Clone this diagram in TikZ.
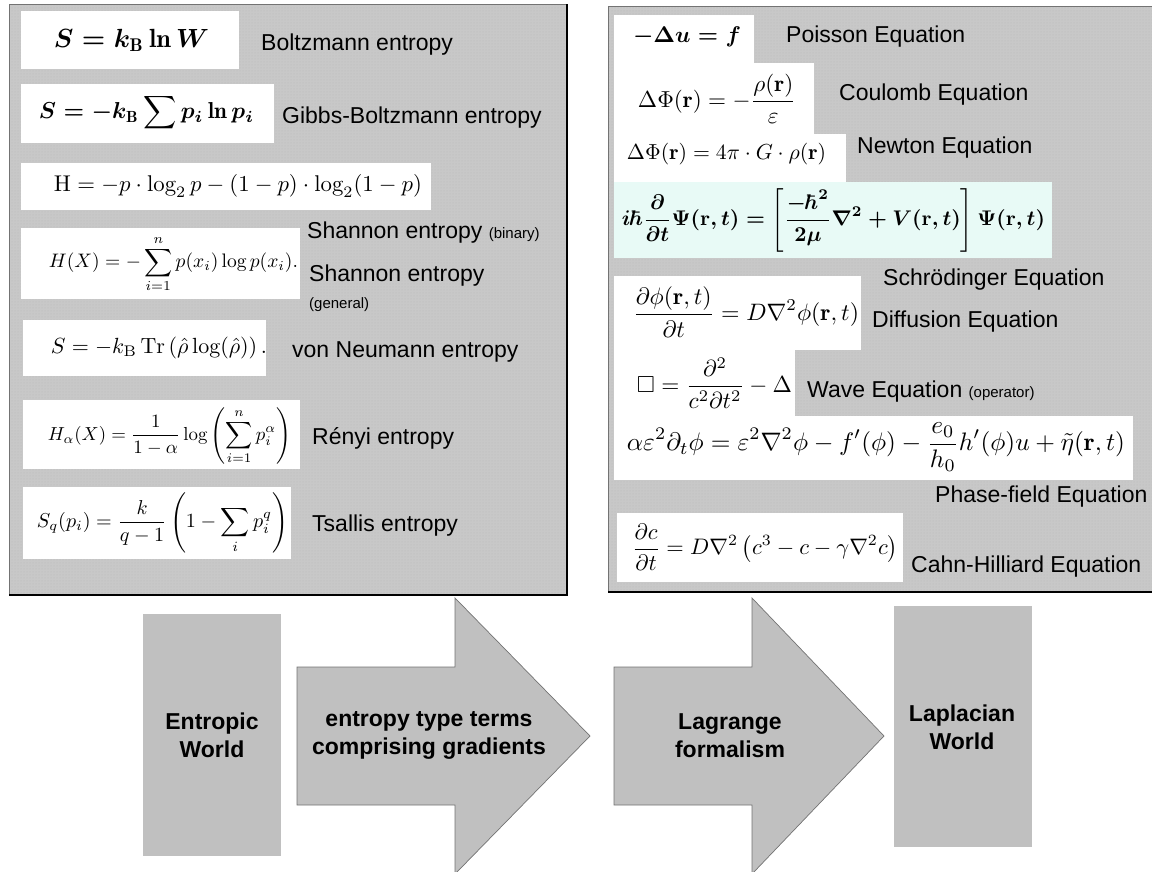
\documentclass[tikz,border=0pt]{standalone}
\usepackage{amsmath}
\usepackage{amssymb}
\usepackage{graphicx}
\usepackage{fontspec}
\newfontfamily\arial{Liberation Sans}
\usetikzlibrary{patterns}

\definecolor{panelgray}{RGB}{200,200,200}
\definecolor{dotgray}{RGB}{186,186,186}
\definecolor{blockgray}{RGB}{192,192,192}
\definecolor{mint}{RGB}{232,250,246}

\newcommand{\fml}[2]{\resizebox{#1pt}{!}{$\displaystyle #2$}}
\newcommand{\sm}[1]{{\fontsize{15}{18}\selectfont #1}}

\begin{document}
\begin{tikzpicture}[x=1pt,y=-1pt,
                panel/.style={fill=panelgray, postaction={pattern=dots, pattern color=dotgray}},
                eqbox/.style={fill=white},
                formula/.style={inner sep=0pt},
                lbl/.style={anchor=base west, inner sep=0pt, font=\arial\fontsize{23}{27}\selectfont},
                block/.style={fill=blockgray},
                blockarrow/.style={fill=blockgray, draw=black!55, line width=0.7pt},
                blocktext/.style={align=center, inner sep=0pt, font=\arial\bfseries\fontsize{23}{28}\selectfont}]
                \useasboundingbox (0,0) rectangle (1152,872);
                \clip (0,0) rectangle (1152,872);

                % panels
                \fill[panel] (9,4) rectangle (567,595);
                \draw[black!55, line width=0.8pt] (9,595) -- (9,4) -- (567,4);
                \draw[black, line width=2pt] (9,595) -- (567,595) -- (567,4);
                \fill[panel] (608,6) rectangle (1160,592);
                \draw[black!55, line width=0.8pt] (608,592) -- (608,6) -- (1160,6);
                \draw[black, line width=2pt] (608,592) -- (1160,592);

                % entropies
                \fill[eqbox] (21,11) rectangle (239,69);
                \fill[eqbox] (21,84) rectangle (274,143);
                \fill[eqbox] (21,163) rectangle (431,210);
                \fill[eqbox] (21,228) rectangle (300,299);
                \fill[eqbox] (23,320) rectangle (266,376);
                \fill[eqbox] (23,400) rectangle (300,469);
                \fill[eqbox] (23,487) rectangle (291,559);

                \node[formula] (boltz) at (131.5,40) {\fml{155}{\boldsymbol{S = k_{\mathrm{B}}\ln W}}};
                \node[formula] (gibbs) at (146.5,113) {\fml{215}{\boldsymbol{S = -k_{\mathrm{B}}\sum p_i\ln p_i}}};
                \node[formula] (shabin) at (238,186) {\fml{368}{\mathrm{H} = -p\cdot\log_2 p-(1-p)\cdot\log_2(1-p)}};
                \node[formula] (shagen) at (173.5,264) {\fml{249}{H(X) = -\sum_{i=1}^{n} p(x_i)\log p(x_i).}};
                \node[formula] (neum) at (159,348) {\fml{216}{S = -k_{\mathrm{B}}\,\mathrm{Tr}\left(\hat\rho\log(\hat\rho)\right).}};
                \node[formula] (renyi) at (169.5,436) {\fml{243}{H_\alpha(X) = \frac{1}{1-\alpha}\log\left(\sum_{i=1}^{n} p_i^\alpha\right)}};
                \node[formula] (tsal) at (162.5,523) {\fml{251}{S_q(p_i) = \frac{k}{q-1}\left(1-\sum_i p_i^q\right)}};

                \node[lbl] (boltzl) at (261,51) {Boltzmann entropy};
                \node[lbl] (gibbsl) at (282,124) {Gibbs-Boltzmann entropy};
                \node[lbl] (shabinl) at (307,238) {Shannon entropy \sm{(binary)}};
                \node[lbl] (shagenl) at (309,281) {Shannon entropy};
                \node[lbl] (shagenl2) at (309,308) {\sm{(general)}};
                \node[lbl] (neuml) at (292,357) {von Neumann entropy};
                \node[lbl] (renyil) at (312,444) {Rényi entropy};
                \node[lbl] (tsall) at (312,531) {Tsallis entropy};

                % equations
                \fill[eqbox] (614,15) rectangle (754,63);
                \fill[eqbox] (614,63) rectangle (814,134);
                \fill[eqbox] (614,134) rectangle (846,182);
                \fill[mint] (614,182) rectangle (1052,258);
                \fill[eqbox] (614,276) rectangle (861,350);
                \fill[eqbox] (614,350) rectangle (795,416);
                \fill[eqbox] (614,416) rectangle (1133,480);
                \fill[eqbox] (617,513) rectangle (903,582);

                \node[formula] (pois) at (687,37) {\fml{108}{\boldsymbol{-\Delta u = f}}};
                \node[formula] (coul) at (717,99) {\fml{158}{\Delta\Phi(\mathbf{r}) = -\frac{\rho(\mathbf{r})}{\varepsilon}}};
                \node[formula] (newt) at (726.5,154) {\fml{199}{\Delta\Phi(\mathbf{r}) = 4\pi\cdot G\cdot\rho(\mathbf{r})}};
                \node[formula] (schr) at (833.5,220) {\fml{423}{\boldsymbol{i\hbar\frac{\partial}{\partial t}\Psi(\mathbf{r},t) = \left[\frac{-\hbar^2}{2\mu}\nabla^2+V(\mathbf{r},t)\right]\Psi(\mathbf{r},t)}}};
                \node[formula] (diff) at (746,312) {\fml{226}{\frac{\partial\phi(\mathbf{r},t)}{\partial t} = D\nabla^2\phi(\mathbf{r},t)}};
                \node[formula] (wave) at (714.5,383) {\fml{155}{\Box = \frac{\partial^2}{c^2\partial t^2}-\Delta}};
                \node[formula] (phase) at (876,447) {\fml{498}{\alpha\varepsilon^2\partial_t\phi = \varepsilon^2\nabla^2\phi-f'(\phi)-\frac{e_0}{h_0}h'(\phi)u+\tilde\eta(\mathbf{r},t)}};
                \node[formula] (cahn) at (765,547) {\fml{266}{\frac{\partial c}{\partial t} = D\nabla^2\left(c^3-c-\gamma\nabla^2 c\right)}};

                \node[lbl] (poisl) at (786,43) {Poisson Equation};
                \node[lbl] (coull) at (839,101) {Coulomb Equation};
                \node[lbl] (newtl) at (857,154) {Newton Equation};
                \node[lbl] (schrl) at (883,285) {Schrödinger Equation};
                \node[lbl] (diffl) at (872,327) {Diffusion Equation};
                \node[lbl] (wavel) at (807,397) {Wave Equation \sm{(operator)}};
                \node[lbl] (phasel) at (935,502) {Phase-field Equation};
                \node[lbl] (cahnl) at (911,572) {Cahn-Hilliard Equation};

                % worlds and arrows
                \fill[block] (143,614) rectangle (281,856);
                \fill[block] (894,606) rectangle (1032,847);
                \draw[blockarrow] (297,667) -- (455,667) -- (455,598) -- (590,736)
                        -- (455,874) -- (455,805) -- (297,805) -- cycle;
                \draw[blockarrow] (614,667) -- (752,667) -- (752,598) -- (884,736)
                        -- (752,874) -- (752,805) -- (614,805) -- cycle;

                \node[blocktext] (entw) at (212,735) {Entropic\\World};
                \node[blocktext] (terms) at (429,735) {entropy type terms\\comprising gradients};
                \node[blocktext] (lagr) at (730,736) {Lagrange\\formalism};
                \node[blocktext] (lapw) at (962,727) {Laplacian\\World};

                \end{tikzpicture}
\end{document}
